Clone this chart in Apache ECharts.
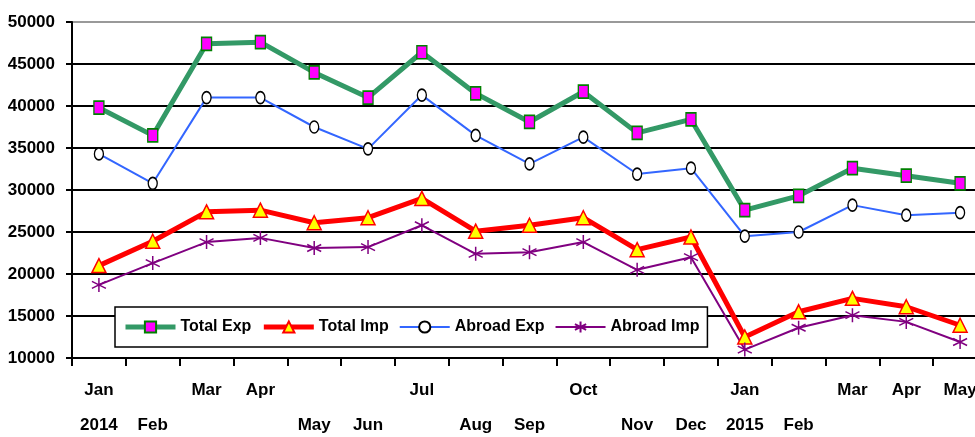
<!DOCTYPE html>
<html>
<head>
<meta charset="utf-8">
<script src="https://cdn.jsdelivr.net/npm/echarts@6/dist/echarts.min.js"></script>
<style>
  html, body { margin: 0; padding: 0; background: #fff; }
  #chart { width: 975px; height: 437px; }
</style>
</head>
<body>
<div id="chart"></div>
<script>
// categories and the two staggered label rows (as in the source chart)
const months = ["Jan 2014", "Feb 2014", "Mar 2014", "Apr 2014", "May 2014", "Jun 2014", "Jul 2014", "Aug 2014", "Sep 2014",
  "Oct 2014", "Nov 2014", "Dec 2014", "Jan 2015", "Feb 2015", "Mar 2015", "Apr 2015", "May 2015"]
const labelTop = ["Jan", "", "Mar", "Apr", "", "", "Jul", "", "", "Oct", "", "", "Jan", "", "Mar", "Apr", "May"]
const labelBottom = ["2014", "Feb", "", "", "May", "Jun", "", "Aug", "Sep", "", "Nov", "Dec", "2015", "Feb", "", "", ""]

// series values
const totalExp = [39800, 36500, 47400, 47600, 44000, 41000, 46400, 41500, 38100, 41700, 36800, 38400, 27600, 29300, 32600, 31700, 30800]
const totalImp = [21000, 23900, 27400, 27600, 26100, 26700, 29000, 25100, 25800, 26700, 22900, 24400, 12500, 15500, 17100, 16100, 13900]
const abroadExp = [34300, 30800, 41000, 41000, 37500, 34900, 41300, 36500, 33100, 36300, 31900, 32600, 24500, 25000, 28200, 27000, 27300]
const abroadImp = [18700, 21300, 23800, 24300, 23100, 23200, 25800, 22400, 22600, 23800, 20500, 22000, 11000, 13600, 15100, 14300, 11900]

const font = '"Liberation Sans", Arial, sans-serif'
const asterisk = "path://M5,0 L5,10 M0.7,2.5 L9.3,7.5 M9.3,2.5 L0.7,7.5"

const myChart = echarts.init(document.getElementById("chart"))
myChart.setOption({
  animation: false,
  backgroundColor: "#fff",
  grid: {
    left: 72,
    top: 22,
    right: -12,
    bottom: 79,
    outerBoundsMode: "none",
  },
  legend: {
    left: 115,
    top: 307,
    padding: [12, 8],
    itemGap: 10,
    itemWidth: 50,
    itemHeight: 14,
    backgroundColor: "#fff",
    borderColor: "#000",
    borderWidth: 1.5,
    textStyle: { fontFamily: font, fontWeight: "bold", fontSize: 16, color: "#000" },
    data: [
      { name: "Total Exp", lineStyle: { width: 5 } },
      { name: "Total Imp", lineStyle: { width: 5 } },
      { name: "Abroad Exp", lineStyle: { width: 2 } },
      { name: "Abroad Imp", lineStyle: { width: 2 } },
    ],
  },
  xAxis: {
    type: "category",
    boundaryGap: true,
    data: months,
    axisLine: { lineStyle: { color: "#000", width: 2 } },
    axisTick: { show: true, length: 8, lineStyle: { color: "#000", width: 2 } },
    axisLabel: {
      interval: 0,
      margin: 15,
      formatter: function (value, idx) {
        return "{t|" + (labelTop[idx] || "\u00a0") + "}\n{b|" + (labelBottom[idx] || "\u00a0") + "}"
      },
      rich: {
        t: { fontFamily: font, fontWeight: "bold", fontSize: 17, color: "#000", lineHeight: 35 },
        b: { fontFamily: font, fontWeight: "bold", fontSize: 17, color: "#000", lineHeight: 35 },
      },
    },
  },
  yAxis: {
    type: "value",
    min: 10000,
    max: 50000,
    interval: 5000,
    axisLine: { show: true, lineStyle: { color: "#000", width: 2 } },
    axisTick: { show: true, length: 6, lineStyle: { color: "#000", width: 2 } },
    axisLabel: {
      margin: 17,
      fontFamily: font,
      fontWeight: "bold",
      fontSize: 17,
      color: "#000",
      formatter: function (v) {
        return String(v)
      },
    },
    splitLine: {
      show: true,
      lineStyle: {
        color: ["#000", "#000", "#000", "#000", "#000", "#000", "#000", "#000", "#999"],
        width: 2,
      },
    },
  },
  series: [
    {
      name: "Total Exp",
      type: "line",
      data: totalExp,
      symbol: "rect",
      symbolSize: [10, 13],
      lineStyle: { color: "#339966", width: 5 },
      itemStyle: { color: "#ff00ff", borderColor: "#008000", borderWidth: 1.5 },
    },
    {
      name: "Total Imp",
      type: "line",
      data: totalImp,
      symbol: "triangle",
      symbolSize: [14, 14],
      lineStyle: { color: "#ff0000", width: 5 },
      itemStyle: { color: "#ffff00", borderColor: "#ff0000", borderWidth: 1.5 },
    },
    {
      name: "Abroad Exp",
      type: "line",
      data: abroadExp,
      symbol: "circle",
      symbolSize: [9, 12],
      lineStyle: { color: "#3366ff", width: 2 },
      itemStyle: { color: "#fff", borderColor: "#000", borderWidth: 1.5 },
    },
    {
      name: "Abroad Imp",
      type: "line",
      data: abroadImp,
      symbol: asterisk,
      symbolSize: [14, 14],
      lineStyle: { color: "#800080", width: 2 },
      itemStyle: { color: "transparent", borderColor: "#800080", borderWidth: 1.5 },
    },
  ],
})
</script>
</body>
</html>
